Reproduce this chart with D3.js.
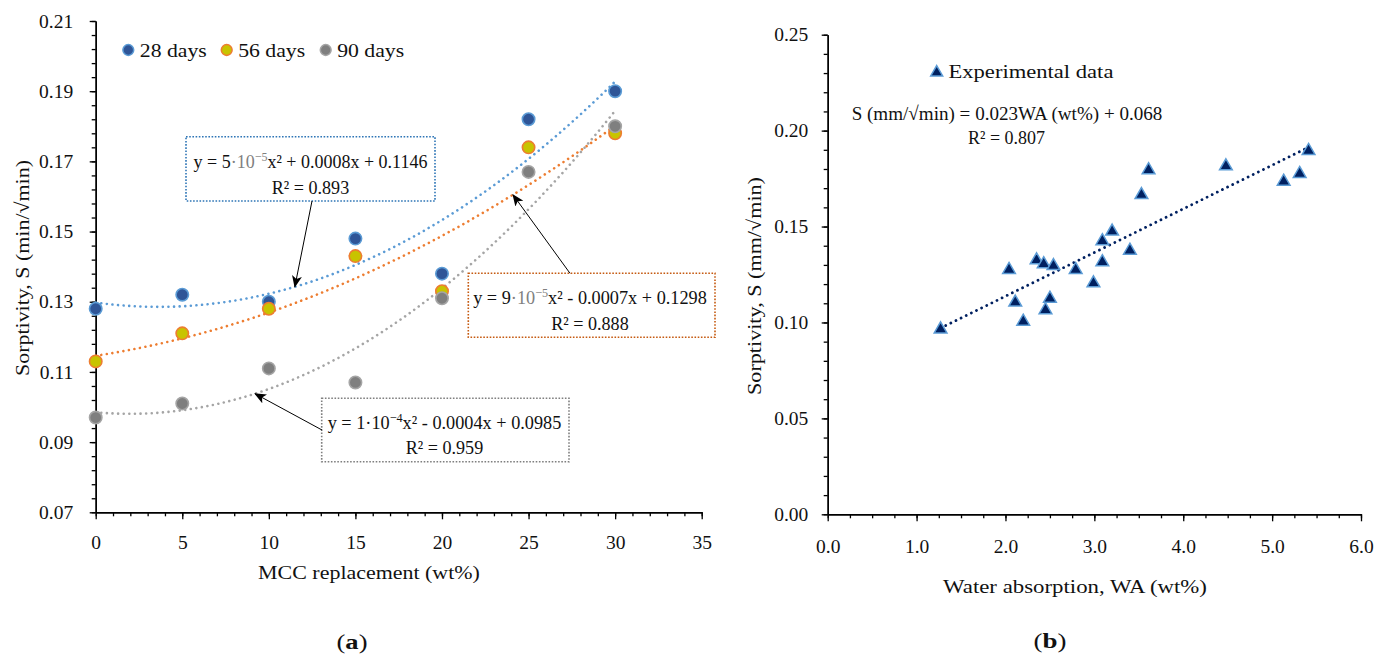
<!DOCTYPE html>
<html><head><meta charset="utf-8">
<script src="https://cdn.jsdelivr.net/npm/d3@7"></script>
<style>body{margin:0;background:#fff} svg{display:block}</style>
</head><body><svg id="c" width="1389" height="654"></svg>
<script>
// ---------- data ----------
const mccReplacement = [0, 5, 10, 15, 20, 25, 30];
const sorptivity28 = [0.128, 0.132, 0.130, 0.148, 0.138, 0.182, 0.190];
const sorptivity56 = [0.113, 0.121, 0.128, 0.143, 0.133, 0.174, 0.178];
const sorptivity90 = [0.097, 0.101, 0.111, 0.107, 0.131, 0.167, 0.180];
const seriesNames = ["28 days", "56 days", "90 days"];

const waterAbsorption = [1.27, 2.04, 2.11, 2.20, 2.35, 2.43, 2.45, 2.50, 2.54, 2.79, 2.99, 3.09, 3.09, 3.20, 3.40, 3.53, 3.61, 4.48, 5.13, 5.31, 5.41];
const sorptivityWA   = [0.097, 0.128, 0.111, 0.101, 0.133, 0.131, 0.107, 0.113, 0.130, 0.128, 0.121, 0.132, 0.143, 0.148, 0.138, 0.167, 0.180, 0.182, 0.174, 0.178, 0.190];

const xTicksA = [0, 5, 10, 15, 20, 25, 30, 35];
const yTicksA = [0.07, 0.09, 0.11, 0.13, 0.15, 0.17, 0.19, 0.21];
const xTicksB = [0, 1, 2, 3, 4, 5, 6];
const yTicksB = [0, 0.05, 0.10, 0.15, 0.20, 0.25];

// ---------- helpers ----------
const FONT = '"Liberation Serif","Times New Roman",serif';
const FS = 19.5;
const svg = d3.select("#c").attr("font-family", FONT);

function fitQuad(xs, ys) {
  const n = xs.length; const S = k => d3.sum(xs, x => Math.pow(x, k));
  const T = k => d3.sum(xs, (x, i) => Math.pow(x, k) * ys[i]);
  const A = [[n, S(1), S(2), T(0)], [S(1), S(2), S(3), T(1)], [S(2), S(3), S(4), T(2)]];
  for (let i = 0; i < 3; i++) {
    for (let j = i + 1; j < 3; j++) {
      const f = A[j][i] / A[i][i];
      for (let k = i; k < 4; k++) A[j][k] -= f * A[i][k];
    }
  }
  const c = [0, 0, 0];
  for (let i = 2; i >= 0; i--) {
    let s = A[i][3];
    for (let k = i + 1; k < 3; k++) s -= A[i][k] * c[k];
    c[i] = s / A[i][i];
  }
  return x => c[0] + c[1] * x + c[2] * x * x;
}
function fitLin(xs, ys) {
  const mx = d3.mean(xs), my = d3.mean(ys);
  const b = d3.sum(xs, (x, i) => (x - mx) * (ys[i] - my)) / d3.sum(xs, x => (x - mx) * (x - mx));
  const a = my - b * mx;
  return x => a + b * x;
}

function addText(parent, x, y, parts, opts = {}) {
  const t = parent.append("text")
    .attr("x", x).attr("y", y)
    .attr("text-anchor", opts.anchor || "middle")
    .attr("font-size", opts.size || FS)
    .attr("dy", "0.35em")
    .attr("fill", "#111");
  if (typeof parts === "string") t.text(parts);
  else {
    let raised = false;
    parts.forEach(p => {
      const s = t.append("tspan").text(p.t);
      if (p.fill) s.style("fill", p.fill);
      if (p.bold) s.attr("font-weight", "bold");
      if (p.sup) { s.attr("dy", -7).attr("font-size", 13); raised = true; }
      else if (raised) { s.attr("dy", 7); raised = false; }
    });
  }
  if (opts.width) {
    const w = t.node().getComputedTextLength();
    const s = opts.width / w;
    t.attr("transform", `translate(${x},0) scale(${s},1) translate(${-x},0)`);
  }
  return t;
}
function addVText(parent, cx, cy, str, width) {
  const t = parent.append("text").attr("x", 0).attr("y", 0)
    .attr("text-anchor", "middle").attr("font-size", FS).attr("dy", "0.35em").attr("fill", "#111").text(str);
  const s = width / t.node().getComputedTextLength();
  t.attr("transform", `translate(${cx},${cy}) rotate(-90) scale(${s},1)`);
}

function styleAxis(g) {
  g.selectAll("path.domain").attr("stroke", "#000").attr("stroke-width", 1.4);
  g.selectAll(".tick line").attr("stroke", "#000").attr("stroke-width", 1.3);
  g.selectAll(".tick text").attr("font-size", FS).attr("font-family", FONT).attr("fill", "#111");
  g.attr("font-size", FS).attr("font-family", FONT);
}

const defs = svg.append("defs");
defs.append("marker").attr("id", "arr").attr("viewBox", "0 0 12 10")
  .attr("refX", 11).attr("refY", 5).attr("markerWidth", 12).attr("markerHeight", 10)
  .attr("markerUnits", "userSpaceOnUse").attr("orient", "auto")
  .append("path").attr("d", "M0,0 L12,5 L0,10 L3,5 Z").attr("fill", "#000");

// ================= Chart (a) =================
const xA = d3.scaleLinear([0, 35], [95.7, 701.7]);
const yA = d3.scaleLinear([0.07, 0.21], [512.3, 21]);
const gA = svg.append("g");

const gAyMinor = gA.append("g").attr("transform", `translate(${xA(0)},0)`)
  .call(d3.axisLeft(yA).tickValues(d3.range(0, 36).map(i => 0.07 + i * 0.004)).tickFormat("").tickSize(4).tickSizeOuter(0));
styleAxis(gAyMinor);
const gAxMinor = gA.append("g").attr("transform", `translate(0,${yA(0.07)})`)
  .call(d3.axisBottom(xA).tickValues(d3.range(0, 36)).tickFormat("").tickSize(4).tickSizeOuter(0));
styleAxis(gAxMinor);
const gAy = gA.append("g").attr("transform", `translate(${xA(0)},0)`)
  .call(d3.axisLeft(yA).tickValues(yTicksA).tickFormat(d3.format(".2f")).tickSize(6).tickSizeOuter(0).tickPadding(16.5));
styleAxis(gAy);
const gAx = gA.append("g").attr("transform", `translate(0,${yA(0.07)})`)
  .call(d3.axisBottom(xA).tickValues(xTicksA).tickFormat(d3.format("d")).tickSize(7).tickSizeOuter(0).tickPadding(15.5));
styleAxis(gAx);

const seriesA = [
  { name: seriesNames[0], vals: sorptivity28, fill: "#2F5597", stroke: "#5B9BD5", line: "#5B9BD5" },
  { name: seriesNames[1], vals: sorptivity56, fill: "#C8C400", stroke: "#ED7D31", line: "#ED7D31" },
  { name: seriesNames[2], vals: sorptivity90, fill: "#7F7F7F", stroke: "#A5A5A5", line: "#A5A5A5" }
];
seriesA.forEach(s => { s.fit = fitQuad(mccReplacement, s.vals); });

const xsFine = d3.range(0, 30.001, 0.25);
seriesA.forEach(s => {
  gA.append("path")
    .attr("d", d3.line().x(x => xA(x)).y(x => yA(s.fit(x)))(xsFine))
    .attr("fill", "none").attr("stroke", s.line).attr("stroke-width", 2.6)
    .attr("stroke-linecap", "round").attr("stroke-dasharray", "0.01 5.6");
});

seriesA.forEach(s => {
  gA.append("g").selectAll("circle").data(mccReplacement).join("circle")
    .attr("cx", d => xA(d)).attr("cy", (d, i) => yA(s.vals[i])).attr("r", 6.2)
    .attr("fill", s.fill).attr("stroke", s.stroke).attr("stroke-width", 1.6);
});

// legend
const legX = [128.3, 226.7, 325.7];
seriesA.forEach((s, i) => {
  gA.append("circle").attr("cx", legX[i]).attr("cy", 50).attr("r", 5.4)
    .attr("fill", s.fill).attr("stroke", s.stroke).attr("stroke-width", 1.5);
  addText(gA, legX[i] + 11.5, 50, s.name, { anchor: "start", width: 67 });
});

// annotation boxes
const boxes = [
  { x0: 186, y0: 136.7, x1: 435, y1: 201, color: "#2E75B6", cx: 310.5, l1y: 161, l2y: 186.7,
    eq: [{ t: "y = 5" }, { t: "·10", fill: "#808080" }, { t: "−5", fill: "#808080", sup: true }, { t: "x² + 0.0008x + 0.1146" }], r2: "R² = 0.893",
    from: [312, 201], tipX: 11.5, series: 0 },
  { x0: 468.3, y0: 273.3, x1: 715, y1: 337.3, color: "#C55A11", cx: 590, l1y: 297.3, l2y: 323.3,
    eq: [{ t: "y = 9" }, { t: "·10", fill: "#808080" }, { t: "−5", fill: "#808080", sup: true }, { t: "x² - 0.0007x + 0.1298" }], r2: "R² = 0.888",
    from: [570, 273.3], tipX: 24.1, series: 1 },
  { x0: 321.7, y0: 398.3, x1: 569, y1: 461.7, color: "#7F7F7F", cx: 444.5, l1y: 421.7, l2y: 446.7,
    eq: [{ t: "y = 1·10" }, { t: "−4", sup: true }, { t: "x² - 0.0004x + 0.0985" }], r2: "R² = 0.959",
    from: [322, 430], tipX: 9.2, series: 2 }
];
boxes.forEach(b => {
  gA.append("rect").attr("x", b.x0).attr("y", b.y0).attr("width", b.x1 - b.x0).attr("height", b.y1 - b.y0)
    .attr("fill", "#fff").attr("stroke", b.color).attr("stroke-width", 1.6).attr("stroke-dasharray", "1.6 1.6");
  addText(gA, b.cx, b.l1y, b.eq, { width: 234 });
  addText(gA, b.cx, b.l2y, b.r2, { width: 77.5 });
  const s = seriesA[b.series];
  gA.append("line").attr("x1", b.from[0]).attr("y1", b.from[1])
    .attr("x2", xA(b.tipX)).attr("y2", yA(s.fit(b.tipX)))
    .attr("stroke", "#000").attr("stroke-width", 1).attr("marker-end", "url(#arr)");
});

addText(gA, 369, 572, "MCC replacement (wt%)", { width: 222 });
addVText(gA, 22, 268, "Sorptivity, S (min/√min)", 216);
addText(gA, 352, 642, [{ t: "(" }, { t: "a", bold: true }, { t: ")" }], { size: 20, width: 31 });

// ================= Chart (b) =================
const xB = d3.scaleLinear([0, 6], [827.7, 1361]);
const yB = d3.scaleLinear([0, 0.25], [514.3, 34.7]);
const gB = svg.append("g");

const gByMinor = gB.append("g").attr("transform", `translate(${xB(0)},0)`)
  .call(d3.axisLeft(yB).tickValues(d3.range(0, 26).map(i => i * 0.01)).tickFormat("").tickSize(4).tickSizeOuter(0));
styleAxis(gByMinor);
const gBxMinor = gB.append("g").attr("transform", `translate(0,${yB(0)})`)
  .call(d3.axisBottom(xB).tickValues(d3.range(0, 25).map(i => i * 0.25)).tickFormat("").tickSize(4).tickSizeOuter(0));
styleAxis(gBxMinor);
const gBy = gB.append("g").attr("transform", `translate(${xB(0)},0)`)
  .call(d3.axisLeft(yB).tickValues(yTicksB).tickFormat(d3.format(".2f")).tickSize(6).tickSizeOuter(0).tickPadding(13.4));
styleAxis(gBy);
const gBx = gB.append("g").attr("transform", `translate(0,${yB(0)})`)
  .call(d3.axisBottom(xB).tickValues(xTicksB).tickFormat(d3.format(".1f")).tickSize(7).tickSizeOuter(0).tickPadding(18));
styleAxis(gBx);

const lin = fitLin(waterAbsorption, sorptivityWA);
const [wMin, wMax] = d3.extent(waterAbsorption);
gB.append("path")
  .attr("d", d3.line().x(x => xB(x)).y(x => yB(lin(x)))([wMin, wMax]))
  .attr("fill", "none").attr("stroke", "#002060").attr("stroke-width", 2.8)
  .attr("stroke-linecap", "round").attr("stroke-dasharray", "0.01 5.7");

const tri = d3.symbol(d3.symbolTriangle, 70);
gB.append("g").selectAll("path").data(waterAbsorption).join("path")
  .attr("d", tri)
  .attr("transform", (d, i) => `translate(${xB(d)},${yB(sorptivityWA[i]) + 1})`)
  .attr("fill", "#002060").attr("stroke", "#5B9BD5").attr("stroke-width", 1.5);

gB.append("path").attr("d", d3.symbol(d3.symbolTriangle, 62))
  .attr("transform", "translate(936.7,72.5)")
  .attr("fill", "#002060").attr("stroke", "#5B9BD5").attr("stroke-width", 1.5);
addText(gB, 948.5, 71.5, "Experimental data", { anchor: "start", width: 165 });
addText(gB, 1007, 113.3, "S (mm/√min) = 0.023WA (wt%) + 0.068", { width: 311 });
addText(gB, 1006.5, 136.7, "R² = 0.807", { width: 77 });

addText(gB, 1075, 586, "Water absorption, WA (wt%)", { width: 264 });
addVText(gB, 754, 286, "Sorptivity, S (mm/√min)", 218);
addText(gB, 1050, 641, [{ t: "(" }, { t: "b", bold: true }, { t: ")" }], { size: 20, width: 33 });
</script>
</body></html>
